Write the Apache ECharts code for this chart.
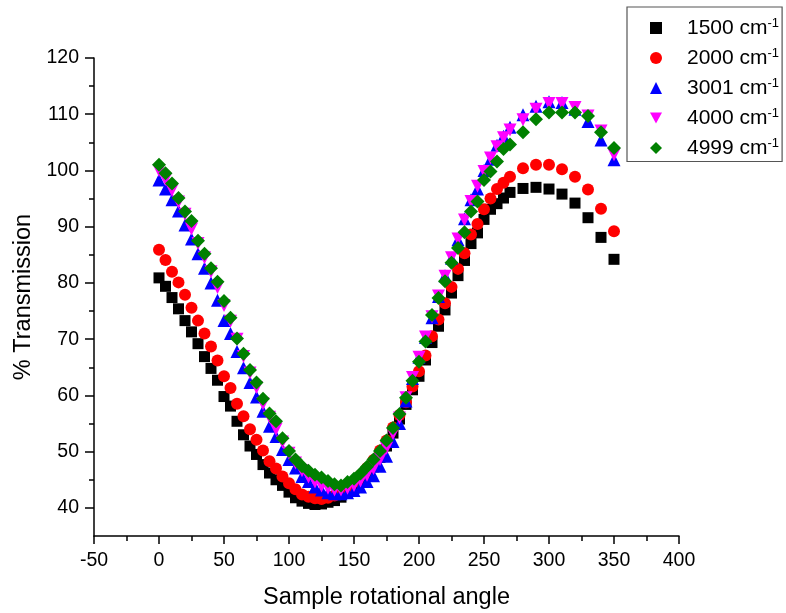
<!DOCTYPE html>
<html>
<head>
<meta charset="utf-8">
<script src="https://cdn.jsdelivr.net/npm/echarts@6/dist/echarts.min.js"></script>
<style>html,body{margin:0;padding:0;background:#fff;}#c{width:786px;height:613px;}</style>
</head>
<body>
<div id="c"></div>
<script>
const seriesNames = ['1500', '2000', '3001', '4000', '4999'];
const angles = [0,5,10,15,20,25,30,35,40,45,50,55,60,65,70,75,80,85,90,95,100,105,110,115,120,125,130,135,140,145,150,155,160,165,170,175,180,185,190,195,200,205,210,215,220,225,230,235,240,245,250,255,260,265,270,280,290,300,310,320,330,340,350];
const t1500 = [80.9,79.4,77.4,75.4,73.3,71.3,69.2,66.9,64.8,62.7,59.8,58.1,55.4,53.0,51.0,49.5,47.7,46.2,45.0,44.0,42.8,41.8,41.2,40.8,40.6,40.7,41.0,41.3,41.9,42.6,43.5,44.6,45.8,47.3,49.0,51.0,53.3,55.8,58.4,61.0,63.4,66.3,69.4,72.3,75.2,78.2,81.3,84.0,87.0,88.9,91.3,93.1,94.1,95.1,96.1,96.8,97.0,96.7,95.8,94.2,91.6,88.1,84.2];
const t2000 = [85.9,84.1,82.0,80.1,77.9,75.6,73.3,71.0,68.7,66.2,63.4,61.3,58.5,56.3,54.0,52.1,50.2,48.3,47.0,45.6,44.4,43.3,42.4,42.0,41.7,41.6,41.8,42.2,42.8,43.6,44.6,45.8,47.1,48.5,50.2,52.0,54.3,56.5,58.8,61.6,64.3,67.1,70.5,73.5,76.4,79.3,82.5,85.3,88.6,90.5,93.1,95.0,96.7,97.8,98.9,100.4,101.0,101.0,100.2,98.9,96.6,93.2,89.2];
const t3001 = [98.3,96.7,94.8,92.8,90.3,87.8,85.2,82.6,80.0,76.9,73.3,71.0,67.8,64.9,62.3,59.7,57.2,54.5,52.7,50.4,48.6,47.1,45.6,44.7,43.7,43.2,42.7,42.5,42.5,42.7,43.1,43.7,44.7,45.7,47.4,49.2,51.8,55.0,59.0,63.0,66.8,70.3,73.8,77.6,81.3,84.4,87.7,91.4,94.8,96.7,100.0,102.0,104.5,106.1,107.7,109.9,111.4,112.2,112.1,110.9,108.7,105.4,101.9];
const t4000 = [100.0,98.4,96.5,94.4,92.2,89.6,87.0,84.5,82.0,79.2,76.0,73.2,70.0,66.9,64.0,61.4,58.5,56.1,54.0,51.7,49.7,48.0,46.6,45.5,44.6,43.9,43.5,43.2,43.2,43.5,44.0,44.8,45.8,47.0,48.6,50.6,53.2,56.0,59.6,63.2,66.8,70.4,74.0,77.7,81.2,84.5,87.8,91.2,94.5,97.2,99.8,102.2,104.2,105.8,107.2,109.0,110.9,111.9,111.9,111.2,109.7,107.0,102.8];
const t4999 = [101.0,99.5,97.7,95.1,92.7,91.0,87.5,85.2,82.6,80.2,76.8,73.8,70.1,67.4,64.5,62.3,59.4,56.8,55.4,52.4,50.1,48.6,47.4,46.6,45.9,45.4,44.8,44.2,44.0,44.6,45.2,46.1,47.3,48.6,50.1,52.0,54.2,56.7,59.6,62.6,66.0,69.6,74.3,77.3,80.3,83.6,86.2,89.0,92.7,94.5,98.3,99.8,101.6,103.8,104.6,106.8,109.1,110.3,110.3,110.3,109.7,106.8,104.0];
const xTicks = [-50,0,50,100,150,200,250,300,350,400];
const yTicks = [40,50,60,70,80,90,100,110,120];
const yMinorTicks = [45,55,65,75,85,95,105,115];

const values = [t1500, t2000, t3001, t4000, t4999];
const colors = ['#000000', '#ff0000', '#0000ff', '#ff00ff', '#008000'];
const symbols = ['rect', 'circle', 'triangle', 'path://M0,0 L10,0 L5,9 Z', 'diamond'];
const sizes = [11, 12, 13, 13, 14];
const font = 'Liberation Sans, Arial, sans-serif';

const chart = echarts.init(document.getElementById('c'));
chart.setOption({
  animation: false,
  backgroundColor: '#ffffff',
  grid: { left: 94, right: 107, top: 58, bottom: 77, outerBoundsMode: 'none', containLabel: false },
  legend: {
    orient: 'vertical', left: 627, top: 7,
    borderColor: '#555', borderWidth: 1.2,
    padding: [10, 3, 3, 23],
    itemWidth: 12, itemHeight: 12, itemGap: 8.5,
    data: seriesNames.map((n, i) => ({ name: n, icon: symbols[i] })),
    formatter: n => '{a|' + n + ' cm}{s|-1}',
    textStyle: {
      fontFamily: font, color: '#000',
      rich: {
        a: { fontSize: 21, fontFamily: font, color: '#000', lineHeight: 22, padding: [0, 0, 0, 20] },
        s: { fontSize: 13, fontFamily: font, color: '#000', verticalAlign: 'top', lineHeight: 16, padding: [0, 0, 4, 0] }
      }
    }
  },
  xAxis: {
    type: 'value', min: -50, max: 400, interval: 50,
    name: 'Sample rotational angle', nameLocation: 'middle', nameGap: 50,
    nameTextStyle: { fontFamily: font, fontSize: 23.5, color: '#000' },
    axisLine: { onZero: false, lineStyle: { color: '#000', width: 1.5 } },
    axisTick: { length: 8, lineStyle: { color: '#000', width: 1.5 } },
    minorTick: { show: true, splitNumber: 2, length: 5, lineStyle: { color: '#000', width: 1.5 } },
    axisLabel: { fontFamily: font, fontSize: 19.5, color: '#000', margin: 15,
      customValues: xTicks },
    splitLine: { show: false }
  },
  yAxis: [{
    type: 'value', min: 35, max: 120,
    name: '% Transmission', nameLocation: 'middle', nameGap: 58,
    nameTextStyle: { fontFamily: font, fontSize: 23.5, color: '#000' },
    axisLine: { show: true, onZero: false, lineStyle: { color: '#000', width: 1.5 } },
    axisTick: { show: true, length: 9, customValues: yTicks, lineStyle: { color: '#000', width: 1.5 } },
    axisLabel: { fontFamily: font, fontSize: 19.5, color: '#000', margin: 15, customValues: yTicks },
    splitLine: { show: false }
  }, {
    type: 'value', min: 35, max: 120, position: 'left',
    axisLine: { show: false, onZero: false },
    axisTick: { show: true, length: 5, customValues: yMinorTicks, lineStyle: { color: '#000', width: 1.5 } },
    axisLabel: { show: false },
    splitLine: { show: false }
  }],
  series: seriesNames.map((n, i) => ({
    name: n, type: 'scatter', xAxisIndex: 0, yAxisIndex: 0,
    symbol: symbols[i], symbolSize: sizes[i],
    itemStyle: { color: colors[i], opacity: 1 },
    data: angles.map((a, k) => [a, values[i][k]])
  }))
});
</script>
</body>
</html>
